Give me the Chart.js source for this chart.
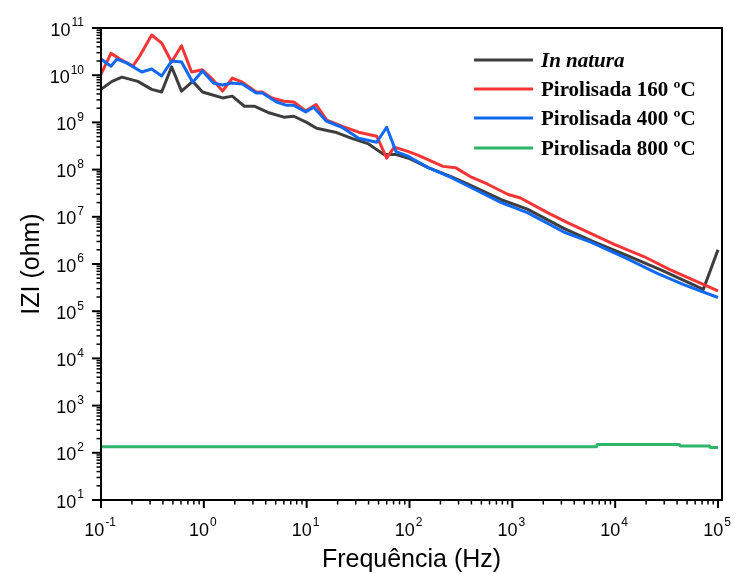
<!DOCTYPE html>
<html>
<head>
<meta charset="utf-8">
<script src="https://cdn.jsdelivr.net/npm/chart.js@4.4.0/dist/chart.umd.min.js"></script>
<style>
  html, body { margin: 0; padding: 0; background: #fff; }
</style>
</head>
<body>
<canvas id="chart" width="734" height="574"></canvas>
<script>
// Valores (frequência em Hz, |Z| em ohm)
const inNaturaFreq = [0.1, 0.128, 0.16, 0.228, 0.311, 0.389, 0.486, 0.607, 0.78, 0.97, 1.13, 1.52, 1.89, 2.48, 3.1, 4.3, 6, 7.5, 10, 12.5, 19, 27.5, 40, 56, 73, 98, 152, 250, 370, 780, 1400, 3200, 6300, 12300, 27500, 72000, 100000];
const inNaturaZ = [5e9, 7.4e9, 9.1e9, 7.4e9, 5e9, 4.4e9, 1.5e10, 4.6e9, 7.4e9, 4.4e9, 4e9, 3.3e9, 3.6e9, 2.2e9, 2.2e9, 1.6e9, 1.29e9, 1.35e9, 1e9, 7.5e8, 6.2e8, 4.6e8, 3.5e8, 2.1e8, 2.1e8, 1.74e8, 1.1e8, 7.2e7, 4.9e7, 2.3e7, 1.45e7, 5.6e6, 2.9e6, 1.6e6, 7.6e5, 2.9e5, 2e6];

const pir160Freq = [0.1, 0.125, 0.153, 0.204, 0.238, 0.311, 0.389, 0.486, 0.607, 0.76, 0.97, 1.21, 1.52, 1.89, 2.37, 3.23, 3.7, 4.6, 6, 7.5, 9.8, 12.3, 15.7, 22, 32, 48, 60, 71, 98, 122, 212, 280, 400, 577, 900, 1200, 2200, 3400, 9800, 19000, 34000, 100000];
const pir160Z = [1.05e10, 2.9e10, 2.2e10, 1.56e10, 2.55e10, 7.1e10, 4.8e10, 1.9e10, 4.2e10, 1.17e10, 1.3e10, 8.3e9, 4.6e9, 8.7e9, 7.1e9, 4.4e9, 4.4e9, 3.3e9, 2.8e9, 2.7e9, 1.74e9, 2.4e9, 1.12e9, 8.3e8, 6.2e8, 5.1e8, 1.75e8, 3e8, 2.4e8, 2e8, 1.17e8, 1.1e8, 6.9e7, 4.9e7, 3e7, 2.5e7, 1.23e7, 7.6e6, 2.6e6, 1.44e6, 7.6e5, 2.7e5];

const pir400Freq = [0.1, 0.125, 0.143, 0.179, 0.249, 0.311, 0.389, 0.486, 0.607, 0.78, 0.97, 1.24, 1.52, 1.85, 2.37, 3.23, 3.7, 5.1, 6.4, 7.5, 9.8, 11.7, 15.5, 22, 32, 48, 60, 74, 98, 152, 250, 370, 780, 1400, 3200, 5800, 12300, 25700, 47000, 100000];
const pir400Z = [2.2e10, 1.55e10, 2.2e10, 1.8e10, 1.17e10, 1.35e10, 9.6e9, 2e10, 1.9e10, 7.1e9, 1.23e10, 6.8e9, 6.2e9, 6.8e9, 6.5e9, 4.2e9, 4.2e9, 2.7e9, 2.3e9, 2.3e9, 1.67e9, 2.1e9, 1.07e9, 7.9e8, 4.6e8, 3.8e8, 7.9e8, 2.4e8, 1.9e8, 1.1e8, 6.9e7, 4.5e7, 2e7, 1.23e7, 4.7e6, 2.9e6, 1.38e6, 6.3e5, 3.6e5, 1.95e5];

const pir800Freq = [0.1, 6600, 6700, 42000, 43000, 83000, 84000, 100000];
const pir800Z = [135, 135, 150, 150, 140, 140, 130, 130];

const seriesLabels = ['In natura', 'Pirolisada 160 ºC', 'Pirolisada 400 ºC', 'Pirolisada 800 ºC'];
const seriesColors = ['#3e3e3e', '#f53535', '#1169f3', '#2eb568'];

const xDecades = [-1, 0, 1, 2, 3, 4, 5];
const yDecades = [1, 2, 3, 4, 5, 6, 7, 8, 9, 10, 11];

const xTitle = 'Frequência (Hz)';
const yTitle = 'IZI (ohm)';

const SANS = '"Liberation Sans", Arial, sans-serif';
const SERIF = '"Liberation Serif", "Times New Roman", serif';

function toPoints(freq, z) {
    return freq.map((f, i) => ({ x: f, y: z[i] }));
}

// "10" com expoente sobrescrito
function drawPower(ctx, exp, x, cy, align) {
    const base = '10';
    const sup = String(exp);
    ctx.font = '18px ' + SANS;
    const wb = ctx.measureText(base).width;
    ctx.font = '12px ' + SANS;
    const ws = ctx.measureText(sup).width;
    const total = wb + 1 + ws;
    const left = align === 'right' ? x - total : x - total / 2;
    ctx.textAlign = 'left';
    ctx.textBaseline = 'alphabetic';
    ctx.font = '18px ' + SANS;
    ctx.fillText(base, left, cy + 6.5);
    ctx.font = '12px ' + SANS;
    ctx.fillText(sup, left + wb + 1, cy - 2.7);
}

// Eixos no estilo Origin: moldura, ticks para fora, rótulos e legenda
const originAxes = {
    id: 'originAxes',
    afterDraw(chart) {
        const ctx = chart.ctx;
        const a = chart.chartArea;
        const xs = chart.scales.x;
        const ys = chart.scales.y;
        ctx.save();
        ctx.strokeStyle = '#000';
        ctx.fillStyle = '#000';

        // x ticks
        xDecades.forEach(n => {
            for (let k = 1; k < 10; k++) {
                const v = k * Math.pow(10, n);
                if (v > xs.max) break;
                const px = xs.getPixelForValue(v);
                ctx.lineWidth = k === 1 ? 2 : 1.5;
                ctx.beginPath();
                ctx.moveTo(px, a.bottom);
                ctx.lineTo(px, a.bottom + (k === 1 ? 8 : 4.5));
                ctx.stroke();
            }
            drawPower(ctx, n, xs.getPixelForValue(Math.pow(10, n)) - 1, 529, 'center');
        });

        // y ticks
        yDecades.forEach(n => {
            for (let k = 1; k < 10; k++) {
                const v = k * Math.pow(10, n);
                if (v > ys.max) break;
                const py = ys.getPixelForValue(v);
                ctx.lineWidth = k === 1 ? 2 : 1.5;
                ctx.beginPath();
                ctx.moveTo(a.left, py);
                ctx.lineTo(a.left - (k === 1 ? 9 : 4.5), py);
                ctx.stroke();
            }
            drawPower(ctx, n, 84, ys.getPixelForValue(Math.pow(10, n)) + 1, 'right');
        });

        // moldura
        ctx.lineWidth = 2;
        ctx.strokeRect(a.left, a.top, a.right - a.left, a.bottom - a.top);

        // títulos
        ctx.font = '25px ' + SANS;
        ctx.textAlign = 'center';
        ctx.textBaseline = 'alphabetic';
        ctx.fillText(xTitle, (a.left + a.right) / 2, 567);
        ctx.save();
        ctx.translate(32, (a.top + a.bottom) / 2);
        ctx.rotate(-Math.PI / 2);
        ctx.textBaseline = 'middle';
        ctx.fillText(yTitle, 0, 0);
        ctx.restore();

        // legenda
        const rows = [60, 89, 118, 148];
        seriesLabels.forEach((label, i) => {
            ctx.strokeStyle = seriesColors[i];
            ctx.lineWidth = 3;
            ctx.beginPath();
            ctx.moveTo(474, rows[i]);
            ctx.lineTo(533, rows[i]);
            ctx.stroke();
            ctx.fillStyle = '#000';
            ctx.font = (i === 0 ? 'italic bold 21px ' : 'bold 21px ') + SERIF;
            ctx.textAlign = 'left';
            ctx.textBaseline = 'alphabetic';
            ctx.fillText(label, 541, rows[i] + 7);
        });
        ctx.restore();
    }
};

const datasets = [
    { label: seriesLabels[0], data: toPoints(inNaturaFreq, inNaturaZ), borderColor: seriesColors[0], order: 3 },
    { label: seriesLabels[1], data: toPoints(pir160Freq, pir160Z), borderColor: seriesColors[1], order: 2 },
    { label: seriesLabels[2], data: toPoints(pir400Freq, pir400Z), borderColor: seriesColors[2], order: 1 },
    { label: seriesLabels[3], data: toPoints(pir800Freq, pir800Z), borderColor: seriesColors[3], order: 0 }
];

new Chart(document.getElementById('chart'), {
    type: 'line',
    data: { datasets: datasets },
    options: {
        responsive: false,
        animation: false,
        layout: { padding: { top: 28, right: 12, left: 0, bottom: 0 } },
        plugins: { legend: { display: false }, tooltip: { enabled: false } },
        elements: {
            point: { radius: 0 },
            line: { borderWidth: 3, tension: 0, fill: false, borderJoinStyle: 'round' }
        },
        scales: {
            x: {
                type: 'logarithmic', min: 0.1, max: 1.094e5,
                ticks: { display: false }, grid: { display: false }, border: { display: false },
                afterFit(s) { s.height = 74; }
            },
            y: {
                type: 'logarithmic', min: 10, max: 1e11,
                ticks: { display: false }, grid: { display: false }, border: { display: false },
                afterFit(s) { s.width = 101; }
            }
        }
    },
    plugins: [originAxes]
});
</script>
</body>
</html>
